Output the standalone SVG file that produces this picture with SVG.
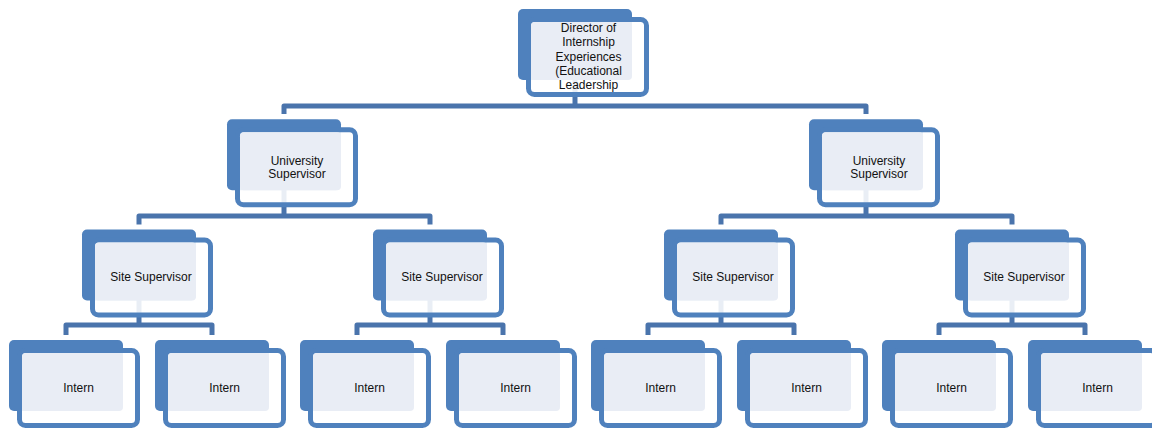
<svg xmlns="http://www.w3.org/2000/svg" width="1152" height="428" viewBox="0 0 1152 428">
<style>
.back{fill:#4F81BD}
.frame{fill:#FFFFFF;fill-opacity:0.88;stroke:#4F81BD;stroke-width:5}
.face{fill:#E9EDF5}
.lbl{font-family:"Liberation Sans",Arial,sans-serif;font-size:12px;fill:#111111;text-anchor:middle}
.conn{fill:none;stroke:#4A74AC;stroke-width:5;stroke-linejoin:round;stroke-linecap:butt}
</style>
<rect width="1152" height="428" fill="#FFFFFF"/>
<g id="connectors" class="conn">
  <path d="M575 80 V106"/>
  <path d="M284 114 V106 H866 V114"/>
  <path d="M284 190 V216"/>
  <path d="M139 224.5 V216 H430 V224.5"/>
  <path d="M866 190 V216"/>
  <path d="M721 224.5 V216 H1012 V224.5"/>
  <path d="M139 300 V325"/>
  <path d="M66 335 V325 H212 V335"/>
  <path d="M430 300 V325"/>
  <path d="M357 335 V325 H503 V335"/>
  <path d="M721 300 V325"/>
  <path d="M648 335 V325 H794 V335"/>
  <path d="M1012 300 V325"/>
  <path d="M939 335 V325 H1085 V335"/>
</g>
<g id="n-director" transform="translate(518,9)">
  <rect class="back" width="114" height="71" rx="5"/>
  <rect class="frame" x="10.5" y="10.5" width="118" height="75" rx="6"/>
  <rect class="face" x="13" y="13" width="101" height="58" rx="4"/>
  <text class="lbl" x="70.5" y="22.7">Director of</text>
  <text class="lbl" x="70.5" y="37.1">Internship</text>
  <text class="lbl" x="70.5" y="51.5">Experiences</text>
  <text class="lbl" x="70.5" y="65.9">(Educational</text>
  <text class="lbl" x="70.5" y="80.3">Leadership</text>
</g>
<g id="n-univ-1" transform="translate(227,119.3)">
  <rect class="back" width="114" height="71" rx="5"/>
  <rect class="frame" x="10.5" y="10.5" width="118" height="75" rx="6"/>
  <rect class="face" x="13" y="13" width="101" height="58" rx="4"/>
  <text class="lbl" x="70" y="45.7">University</text>
  <text class="lbl" x="70" y="59">Supervisor</text>
</g>
<g id="n-univ-2" transform="translate(809,119.3)">
  <rect class="back" width="114" height="71" rx="5"/>
  <rect class="frame" x="10.5" y="10.5" width="118" height="75" rx="6"/>
  <rect class="face" x="13" y="13" width="101" height="58" rx="4"/>
  <text class="lbl" x="70" y="45.7">University</text>
  <text class="lbl" x="70" y="59">Supervisor</text>
</g>
<g id="n-site-1" transform="translate(82,229.5)">
  <rect class="back" width="114" height="71" rx="5"/>
  <rect class="frame" x="10.5" y="10.5" width="118" height="75" rx="6"/>
  <rect class="face" x="13" y="13" width="101" height="58" rx="4"/>
  <text class="lbl" x="69" y="51.5">Site Supervisor</text>
</g>
<g id="n-site-2" transform="translate(373,229.5)">
  <rect class="back" width="114" height="71" rx="5"/>
  <rect class="frame" x="10.5" y="10.5" width="118" height="75" rx="6"/>
  <rect class="face" x="13" y="13" width="101" height="58" rx="4"/>
  <text class="lbl" x="69" y="51.5">Site Supervisor</text>
</g>
<g id="n-site-3" transform="translate(664,229.5)">
  <rect class="back" width="114" height="71" rx="5"/>
  <rect class="frame" x="10.5" y="10.5" width="118" height="75" rx="6"/>
  <rect class="face" x="13" y="13" width="101" height="58" rx="4"/>
  <text class="lbl" x="69" y="51.5">Site Supervisor</text>
</g>
<g id="n-site-4" transform="translate(955,229.5)">
  <rect class="back" width="114" height="71" rx="5"/>
  <rect class="frame" x="10.5" y="10.5" width="118" height="75" rx="6"/>
  <rect class="face" x="13" y="13" width="101" height="58" rx="4"/>
  <text class="lbl" x="69" y="51.5">Site Supervisor</text>
</g>
<g id="n-intern-1" transform="translate(9,340)">
  <rect class="back" width="114" height="71" rx="5"/>
  <rect class="frame" x="10.5" y="10.5" width="118" height="75" rx="6"/>
  <rect class="face" x="13" y="13" width="101" height="58" rx="4"/>
  <text class="lbl" x="69.5" y="51.7">Intern</text>
</g>
<g id="n-intern-2" transform="translate(155,340)">
  <rect class="back" width="114" height="71" rx="5"/>
  <rect class="frame" x="10.5" y="10.5" width="118" height="75" rx="6"/>
  <rect class="face" x="13" y="13" width="101" height="58" rx="4"/>
  <text class="lbl" x="69.5" y="51.7">Intern</text>
</g>
<g id="n-intern-3" transform="translate(300,340)">
  <rect class="back" width="114" height="71" rx="5"/>
  <rect class="frame" x="10.5" y="10.5" width="118" height="75" rx="6"/>
  <rect class="face" x="13" y="13" width="101" height="58" rx="4"/>
  <text class="lbl" x="69.5" y="51.7">Intern</text>
</g>
<g id="n-intern-4" transform="translate(446,340)">
  <rect class="back" width="114" height="71" rx="5"/>
  <rect class="frame" x="10.5" y="10.5" width="118" height="75" rx="6"/>
  <rect class="face" x="13" y="13" width="101" height="58" rx="4"/>
  <text class="lbl" x="69.5" y="51.7">Intern</text>
</g>
<g id="n-intern-5" transform="translate(591,340)">
  <rect class="back" width="114" height="71" rx="5"/>
  <rect class="frame" x="10.5" y="10.5" width="118" height="75" rx="6"/>
  <rect class="face" x="13" y="13" width="101" height="58" rx="4"/>
  <text class="lbl" x="69.5" y="51.7">Intern</text>
</g>
<g id="n-intern-6" transform="translate(737,340)">
  <rect class="back" width="114" height="71" rx="5"/>
  <rect class="frame" x="10.5" y="10.5" width="118" height="75" rx="6"/>
  <rect class="face" x="13" y="13" width="101" height="58" rx="4"/>
  <text class="lbl" x="69.5" y="51.7">Intern</text>
</g>
<g id="n-intern-7" transform="translate(882,340)">
  <rect class="back" width="114" height="71" rx="5"/>
  <rect class="frame" x="10.5" y="10.5" width="118" height="75" rx="6"/>
  <rect class="face" x="13" y="13" width="101" height="58" rx="4"/>
  <text class="lbl" x="69.5" y="51.7">Intern</text>
</g>
<g id="n-intern-8" transform="translate(1028,340)">
  <rect class="back" width="114" height="71" rx="5"/>
  <rect class="frame" x="10.5" y="10.5" width="118" height="75" rx="6"/>
  <rect class="face" x="13" y="13" width="101" height="58" rx="4"/>
  <text class="lbl" x="69.5" y="51.7">Intern</text>
</g>
</svg>
